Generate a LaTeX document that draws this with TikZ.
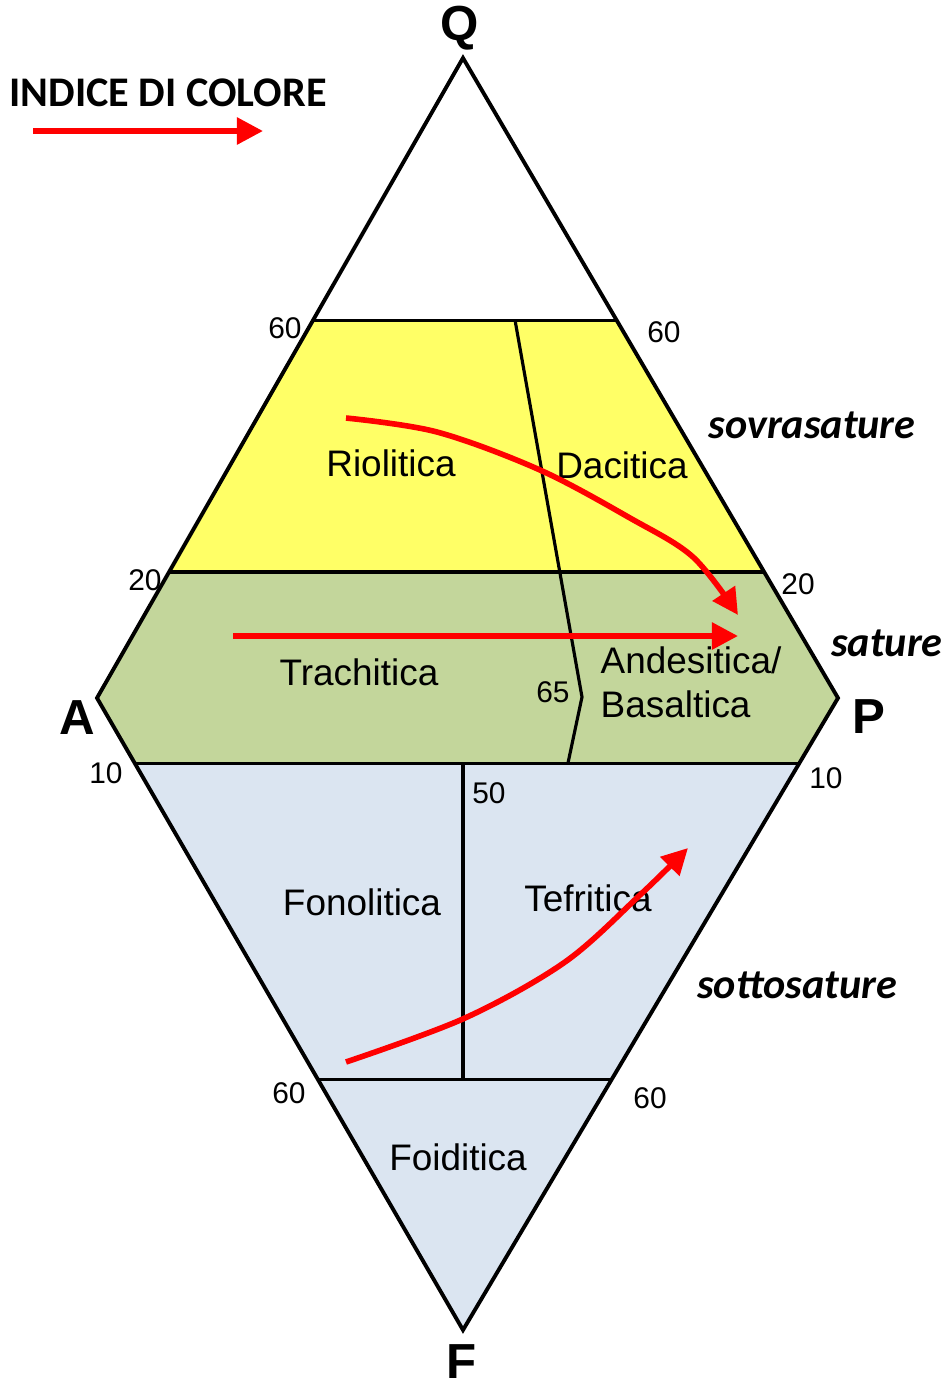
\documentclass[tikz,border=0pt]{standalone}
\usepackage{fontspec}
\setmainfont{Liberation Sans}
\newfontfamily\calfont{Carlito}
\usepackage{tikz}
\usetikzlibrary{arrows.meta,calc}
\definecolor{zonyel}{RGB}{255,255,102}
\definecolor{zongrn}{RGB}{195,214,155}
\definecolor{zonblu}{RGB}{219,229,241}
\definecolor{arrred}{RGB}{255,0,0}
\tikzset{
  edge/.style={draw=black, line width=1.1pt, line join=miter},
  sep/.style={draw=black, line width=0.9pt},
  reg/.style={font=\fontsize{10.5}{12.6}\selectfont, inner sep=0pt},
  num/.style={font=\fontsize{8.5}{10}\selectfont, inner sep=0pt},
  apex/.style={font=\fontsize{14}{16}\selectfont\bfseries, inner sep=0pt},
  side/.style={font=\fontsize{12}{14}\selectfont\calfont\bfseries\itshape, inner sep=0pt},
  ic/.style={-{Triangle[length=2.6mm,width=2.6mm]}, line width=1.6pt, draw=arrred},
}
\begin{document}
\begin{tikzpicture}[x=0.01cm, y=-0.01cm]
  \useasboundingbox (0,0) rectangle (948,1384);
  % vertices
  \coordinate (Q) at (463,58);
  \coordinate (A) at (97,698);
  \coordinate (P) at (838,698);
  \coordinate (F) at (463,1330);
  % field limits on the edges
  \coordinate (q60a) at ($(Q)!0.41!(A)$);   \coordinate (q60p) at ($(Q)!0.41!(P)$);
  \coordinate (q20a) at ($(Q)!0.803!(A)$);  \coordinate (q20p) at ($(Q)!0.803!(P)$);
  \coordinate (f10a) at ($(A)!0.103!(F)$);  \coordinate (f10p) at ($(P)!0.103!(F)$);
  \coordinate (f60a) at ($(A)!0.604!(F)$);  \coordinate (f60p) at ($(P)!0.604!(F)$);
  % fields
  \fill[zonyel] (q60a) -- (q60p) -- (q20p) -- (q20a) -- cycle;
  \fill[zongrn] (q20a) -- (q20p) -- (P) -- (f10p) -- (f10a) -- (A) -- cycle;
  \fill[zonblu] (f10a) -- (f10p) -- (F) -- cycle;
  % dividing lines
  \draw[sep] (q60a) -- (q60p);
  \draw[sep] (q20a) -- (q20p);
  \draw[sep] (f10a) -- (f10p);
  \draw[sep] (f60a) -- (f60p);
  \coordinate (k65) at (582,697);
  \draw[sep] (515,320) -- (k65) -- (568,763);
  \draw[sep] (463,763) -- (463,1080);
  \draw[edge] (Q) -- (P) -- (F) -- (A) -- cycle;
  % apex labels
  \node[apex] (lQ) at (460,28) {Q};
  \node[apex] (lA) at (77,718) {A};
  \node[apex] (lP) at (869,717) {P};
  \node[apex] (lF) at (462,1362) {F};
  % values
  \node[num] (n60a) at (285,328) {60};
  \node[num] (n60p) at (664,332) {60};
  \node[num] (n20a) at (145,580) {20};
  \node[num] (n20p) at (798,584) {20};
  \node[num] (n10a) at (106,773) {10};
  \node[num] (n10p) at (826,778) {10};
  \node[num] (n60fa) at (289,1093) {60};
  \node[num] (n60fp) at (650,1098) {60};
  \node[num] (n65) at (553,692) {65};
  \node[num] (n50) at (489,793) {50};
  % fields names
  \node[reg] (rio) at (391,463) {Riolitica};
  \node[reg] (dac) at (622,465) {Dacitica};
  \node[reg] (tra) at (359,672) {Trachitica};
  \node[reg, align=left, anchor=west] (and) at (600,682) {Andesitica/\\Basaltica};
  \node[reg] (fon) at (362,902) {Fonolitica};
  \node[reg] (tef) at (588,898) {Tefritica};
  \node[reg] (foi) at (458,1157) {Foiditica};
  % saturation
  \node[side] (sov) at (812,425) {sovrasature};
  \node[side] (sat) at (887,643) {sature};
  \node[side] (sot) at (797,985) {sottosature};
  % colour index
  \node[font=\fontsize{12}{14}\selectfont\calfont\bfseries, inner sep=0pt] (ind) at (168,93) {INDICE DI COLORE};
  \coordinate (ic0) at (33,131);
  \coordinate (ic1) at (263,131);
  \draw[ic] (ic0) -- (ic1);
  \draw[ic] plot[smooth, tension=0.55] coordinates {(346,418) (437,432) (540,470) (630,518) (693,557) (738,615)};
  \coordinate (tr0) at (233,636);
  \coordinate (tr1) at (738,636);
  \draw[ic] (tr0) -- (tr1);
  \draw[ic] plot[smooth, tension=0.55] coordinates {(346,1062) (465,1018) (565,962) (640,895) (688,848)};
\end{tikzpicture}
\end{document}
